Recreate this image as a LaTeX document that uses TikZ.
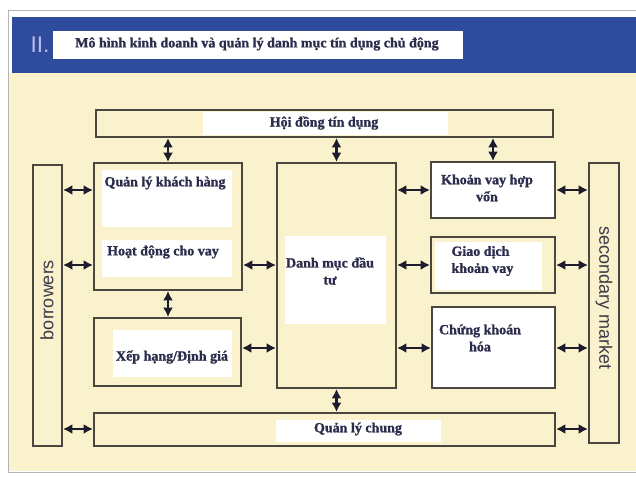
\documentclass[tikz,border=0pt]{standalone}
\usepackage{fontspec}
\setmainfont{Liberation Serif}[BoldFeatures={FakeBold=1.2}]
\setsansfont{Liberation Sans}
\usetikzlibrary{arrows.meta,fit}

\definecolor{cream}{HTML}{FAF2CD}
\definecolor{bandblue}{HTML}{2F4B9B}
\definecolor{boxline}{HTML}{4A4640}
\definecolor{inkblue}{HTML}{2C2C4C}
\definecolor{sideink}{HTML}{3A3A48}
\definecolor{arrowink}{HTML}{1C1C2C}
\definecolor{framegray}{HTML}{B4B4B4}
\definecolor{lavender}{HTML}{BCBCEC}

\tikzset{every picture/.style={line width=0.75pt}}
\tikzset{
  box/.style={draw=boxline, line width=1.6pt, inner sep=0pt},
  lbl/.style={inner sep=0.75pt, text=inkblue, font=\fontsize{10.5}{12.8}\selectfont\bfseries},
  side/.style={inner sep=0.75pt, text=sideink, font=\fontsize{13.5}{16}\selectfont\sffamily},
  dbl/.style={draw=arrowink, line width=2pt, {Latex[length=7pt,width=7.5pt]}-{Latex[length=7pt,width=7.5pt]}},
}

\begin{document}
\begin{tikzpicture}[x=0.75pt,y=0.75pt,yscale=-1,xscale=1]
		\useasboundingbox (0,0) rectangle (636,477);

		%Shape: Rectangle [page]
		\fill[white] (0,0) rectangle (636,477);
		\fill[cream] (9,73) rectangle (636,471);
		\draw[framegray] (640,11) -- (8,11) -- (8,472) -- (640,472);
		%Shape: Rectangle [title band]
		\fill[bandblue] (12,17) rectangle (636,73);
		\fill[white] (53,31) rectangle (463,59);

		%Shape: Rectangle [white panels]
		\fill[white] (203,112) rectangle (448,135);
		\fill[white] (102,170) rectangle (232,227);
		\fill[white] (102,240) rectangle (232,277);
		\fill[white] (113,330) rectangle (232,377);
		\fill[white] (285,236) rectangle (386,324);
		\fill[white] (431,162) rectangle (555,218);
		\fill[white] (435,242) rectangle (542,290);
		\fill[white] (432,307) rectangle (555,388);
		\fill[white] (276,420) rectangle (441,442);

		%Shape: Rectangle [boxes]
		\node[box, fit={(96,110) (553,137)}] (hd) {};
		\node[box, fit={(94,163) (242,290)}] (qlkh) {};
		\node[box, fit={(94,318) (241,386)}] (xh) {};
		\node[box, fit={(277,163) (396,388)}] (dm) {};
		\node[box, fit={(431,162) (555,218)}] (kv) {};
		\node[box, fit={(431,237) (555,293)}] (gd) {};
		\node[box, fit={(432,307) (555,388)}] (ck) {};
		\node[box, fit={(94,413) (555,446)}] (qlc) {};
		\node[box, fit={(33,165) (62,446)}] (bor) {};
		\node[box, fit={(589,163) (619,443)}] (sec) {};

		% Text Node
		\node[inner sep=0.75pt, text=lavender, font=\fontsize{17}{17}\selectfont\sffamily] (num) at (40,45) {II.};
		% Text Node
		\node[lbl] (title) at (257,44) {Mô hình kinh doanh và quản lý danh mục tín dụng chủ động};
		% Text Node
		\node[lbl] (t-hd) at (324,123) {Hội đồng tín dụng};
		% Text Node
		\node[lbl] (t-kh) at (165,183) {Quản lý khách hàng};
		% Text Node
		\node[lbl] (t-cv) at (163,252) {Hoạt động cho vay};
		% Text Node
		\node[lbl] (t-xh) at (172,357) {Xếp hạng/Định giá};
		% Text Node
		\node[lbl, align=center] (t-dm) at (330,271) {Danh mục đầu\\tư};
		% Text Node
		\node[lbl, align=center] (t-kv) at (487,188) {Khoản vay hợp\\vốn};
		% Text Node
		\node[lbl, align=left, anchor=west] (t-gd) at (450,261) {Giao dịch\\khoản vay};
		% Text Node
		\node[lbl, align=center] (t-ck) at (480,338) {Chứng khoán\\hóa};
		% Text Node
		\node[lbl] (t-qlc) at (358,429) {Quản lý chung};
		% Text Node
		\node[side, rotate=90] (t-bor) at (47,300) {borrowers};
		% Text Node
		\node[side, rotate=-90] (t-sec) at (604,298) {secondary market};

		% rows of the side arrows
		\coordinate (r1) at (0,190);
		\coordinate (r2) at (0,265);
		\coordinate (r3) at (0,348);
		\coordinate (r4) at (0,429);

		%Straight Lines [vertical]
		\draw[dbl] (qlkh.north |- hd.south) -- (qlkh.north);
		\draw[dbl] (dm.north |- hd.south) -- (dm.north);
		\draw[dbl] (kv.north |- hd.south) -- (kv.north);
		\draw[dbl] (qlkh.south) -- (qlkh.south |- xh.north);
		\draw[dbl] (dm.south) -- (dm.south |- qlc.north);
		%Straight Lines [borrowers]
		\draw[dbl] (bor.east |- r1) -- (qlkh.west |- r1);
		\draw[dbl] (bor.east |- r2) -- (qlkh.west |- r2);
		\draw[dbl] (bor.east |- r4) -- (qlc.west |- r4);
		%Straight Lines [portfolio]
		\draw[dbl] (qlkh.east |- r2) -- (dm.west |- r2);
		\draw[dbl] (xh.east |- r3) -- (dm.west |- r3);
		\draw[dbl] (dm.east |- r1) -- (kv.west |- r1);
		\draw[dbl] (dm.east |- r2) -- (gd.west |- r2);
		\draw[dbl] (dm.east |- r3) -- (ck.west |- r3);
		%Straight Lines [secondary market]
		\draw[dbl] (kv.east |- r1) -- (sec.west |- r1);
		\draw[dbl] (gd.east |- r2) -- (sec.west |- r2);
		\draw[dbl] (ck.east |- r3) -- (sec.west |- r3);
		\draw[dbl] (qlc.east |- r4) -- (sec.west |- r4);

\end{tikzpicture}
\end{document}
